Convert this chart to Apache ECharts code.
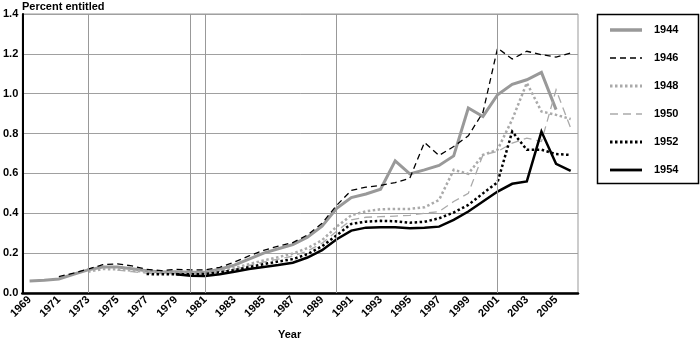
<!DOCTYPE html>
<html>
<head>
<meta charset="utf-8">
<script src="https://cdn.jsdelivr.net/npm/echarts@6/dist/echarts.min.js"></script>
<style>
  html, body { margin: 0; padding: 0; background: #fff; }
  #chart { width: 700px; height: 344px; }
</style>
</head>
<body>
<div id="chart"></div>
<script>
// Years on the horizontal axis (one category per year)
const years = [];
for (let y = 1969; y <= 2006; y++) years.push(String(y));

// Percent entitled, by birth cohort (null before the cohort enters / after it leaves)
const c1944 = [0.06, 0.064, 0.07, 0.094, 0.116, 0.13, 0.13, 0.122, 0.112, 0.105,
  0.107, 0.104, 0.104, 0.119, 0.14, 0.17, 0.2, 0.222, 0.243, 0.28,
  0.335, 0.425, 0.479, 0.497, 0.521, 0.663, 0.598, 0.618, 0.64, 0.688,
  0.928, 0.886, 0.995, 1.047, 1.07, 1.107, 0.92, null];
const c1946 = [null, null, 0.082, 0.1, 0.12, 0.142, 0.146, 0.136, 0.119, 0.112,
  0.119, 0.116, 0.116, 0.129, 0.155, 0.186, 0.214, 0.235, 0.253, 0.291,
  0.35, 0.44, 0.515, 0.531, 0.54, 0.554, 0.576, 0.755, 0.69, 0.735,
  0.789, 0.906, 1.229, 1.174, 1.213, 1.196, 1.184, 1.204];
const c1948 = [null, null, null, null, 0.107, 0.12, 0.119, 0.112, 0.107, 0.102,
  0.102, 0.1, 0.1, 0.112, 0.125, 0.145, 0.163, 0.18, 0.198, 0.225,
  0.265, 0.333, 0.39, 0.41, 0.42, 0.422, 0.422, 0.43, 0.467, 0.618,
  0.598, 0.693, 0.719, 0.87, 1.054, 0.911, 0.894, 0.873];
const c1950 = [null, null, null, null, null, null, 0.115, 0.107, 0.1, 0.097,
  0.097, 0.095, 0.095, 0.107, 0.118, 0.138, 0.155, 0.17, 0.185, 0.21,
  0.25, 0.31, 0.367, 0.38, 0.383, 0.386, 0.39, 0.4, 0.409, 0.459,
  0.5, 0.693, 0.71, 0.752, 0.777, 0.76, 1.02, 0.827];
const c1952 = [null, null, null, null, null, null, null, null, 0.095, 0.094,
  0.094, 0.094, 0.095, 0.104, 0.115, 0.13, 0.145, 0.158, 0.17, 0.195,
  0.235, 0.29, 0.347, 0.358, 0.362, 0.36, 0.353, 0.357, 0.375, 0.404,
  0.442, 0.5, 0.556, 0.81, 0.719, 0.719, 0.697, 0.693];
const c1954 = [null, null, null, null, null, null, null, null, null, null,
  0.094, 0.087, 0.085, 0.094, 0.107, 0.12, 0.13, 0.14, 0.152, 0.178,
  0.215, 0.27, 0.313, 0.328, 0.33, 0.33, 0.325, 0.328, 0.333, 0.367,
  0.409, 0.459, 0.509, 0.548, 0.56, 0.81, 0.648, 0.613];

// Years marked with a vertical reference line
const markedYears = ['1973', '1980', '1981', '1990', '2001'];

const FONT = 'Liberation Sans, Arial, sans-serif';
const FS = 11;
const FW = 'bold';
const FONT_CSS = FW + ' ' + FS + 'px ' + FONT;

// Line look for each cohort (shared by the plot and the key)
const styles = [
  { name: '1944', data: c1944, color: '#999', width: 3, dash: null },
  { name: '1946', data: c1946, color: '#000', width: 1.3, dash: [6, 4] },
  { name: '1948', data: c1948, color: '#aaa', width: 2.5, dash: [2.5, 2.5] },
  { name: '1950', data: c1950, color: '#aaa', width: 1.3, dash: [8, 5] },
  { name: '1952', data: c1952, color: '#000', width: 2.5, dash: [2.5, 2.5] },
  { name: '1954', data: c1954, color: '#000', width: 2.5, dash: null }
];

const series = [{
  name: 'ref', type: 'line', data: [], silent: true, z: 1,
  markLine: {
    silent: true, symbol: 'none', label: { show: false },
    lineStyle: { color: '#999', width: 1, type: 'solid' },
    data: markedYears.map(y => ({ xAxis: y }))
  }
}].concat(styles.map(s => ({
  name: s.name,
  type: 'line',
  data: s.data,
  symbol: 'none',
  connectNulls: false,
  lineStyle: { color: s.color, width: s.width, type: s.dash || 'solid', cap: 'butt', join: 'miter' },
  z: 3
})));

// Key box drawn at the right of the plot
const keyLeft = 597, keyTop = 14, keyW = 101, keyH = 169;
const graphic = [
  { type: 'text', left: 22, top: 1,
    style: { text: 'Percent entitled', fill: '#000', font: FONT_CSS } },
  { type: 'text', left: 278, top: 329,
    style: { text: 'Year', fill: '#000', font: FONT_CSS } },
  { type: 'rect', shape: { x: keyLeft + 0.5, y: keyTop + 0.5, width: keyW, height: keyH },
    style: { fill: '#fff', stroke: '#000', lineWidth: 1.5 }, z: 10 }
];
styles.forEach((s, i) => {
  const cy = 30 + i * 28;
  graphic.push({
    type: 'line', z: 11,
    shape: { x1: 610, y1: cy, x2: 642, y2: cy },
    style: { stroke: s.color, lineWidth: s.name === '1944' ? 3.5 : s.width + 0.3, lineDash: s.dash }
  });
  graphic.push({
    type: 'text', z: 11, x: 654, y: cy,
    style: { text: s.name, fill: '#000', font: FONT_CSS, textVerticalAlign: 'middle', verticalAlign: 'middle' }
  });
});

const chart = echarts.init(document.getElementById('chart'), null, { renderer: 'canvas' });

chart.setOption({
  animation: false,
  backgroundColor: '#fff',
  textStyle: { fontFamily: FONT },
  grid: {
    left: 22, right: 122, top: 14, bottom: 51,
    show: true, borderColor: '#999', borderWidth: 1
  },
  xAxis: {
    type: 'category',
    data: years,
    boundaryGap: true,
    axisLine: { lineStyle: { color: '#000', width: 2.5 } },
    axisTick: { alignWithLabel: true, interval: 0, length: 4, lineStyle: { color: '#000', width: 1 } },
    axisLabel: { interval: 1, rotate: 45, margin: 5, color: '#000', fontSize: FS, fontWeight: FW, fontFamily: FONT },
    splitLine: { show: false }
  },
  yAxis: {
    type: 'value',
    min: 0, max: 1.4, interval: 0.2,
    axisLine: { show: true, lineStyle: { color: '#000', width: 2 } },
    axisTick: { show: false },
    axisLabel: { color: '#000', fontSize: FS, fontWeight: FW, fontFamily: FONT, margin: 4,
      formatter: v => v.toFixed(1) },
    splitLine: { lineStyle: { color: '#a0a0a0', width: 1 } }
  },
  graphic: graphic,
  series: series
});
</script>
</body>
</html>
